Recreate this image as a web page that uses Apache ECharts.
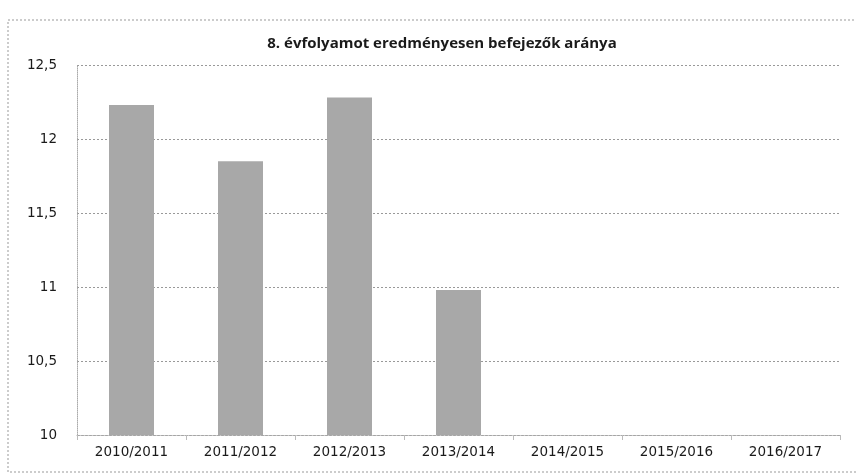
<!DOCTYPE html>
<html>
<head>
<meta charset="utf-8">
<script src="https://cdn.jsdelivr.net/npm/echarts@6/dist/echarts.min.js"></script>
<style>
  html, body { margin: 0; padding: 0; background: #fff; }
  #main { width: 856px; height: 474px; }
</style>
</head>
<body>
<div id="main"></div>
<script>
var categories = ['2010/2011', '2011/2012', '2012/2013', '2013/2014', '2014/2015', '2015/2016', '2016/2017'];
var values = [12.23, 11.85, 12.28, 10.98, null, null, null];
var yTicks = { min: 10, max: 12.5, step: 0.5 };

var myChart = echarts.init(document.getElementById('main'));
myChart.setOption({
    backgroundColor: '#fff',
    title: {
        text: '8. évfolyamot eredményesen befejezők aránya',
        left: 437,
        textAlign: 'center',
        top: 31,
        textStyle: { fontFamily: 'Open Sans', fontSize: 15, fontWeight: 'bold', color: '#1a1a1a' }
    },
    graphic: [{
        type: 'rect',
        shape: { x: 8, y: 20, width: 860, height: 452 },
        style: { fill: 'none', stroke: '#999', lineWidth: 1, lineDash: [2, 2] }
    }],
    grid: { left: 77, right: 16, top: 65, bottom: 39 },
    xAxis: {
        type: 'category',
        data: categories,
        axisLine: { lineStyle: { color: '#aaa', type: 'dotted' } },
        axisTick: { show: true, lineStyle: { color: '#bbb' } },
        axisLabel: { color: '#1a1a1a', fontFamily: 'DejaVu Sans', fontSize: 13.5, margin: 10 }
    },
    yAxis: {
        type: 'value',
        min: yTicks.min,
        max: yTicks.max,
        interval: yTicks.step,
        axisLine: { show: true, lineStyle: { color: '#aaa', type: 'dotted' } },
        axisTick: { show: false },
        splitLine: { lineStyle: { color: '#999', type: [2, 2] } },
        axisLabel: {
            color: '#1a1a1a', fontFamily: 'DejaVu Sans', fontSize: 13.5, margin: 20,
            formatter: function (v) { return String(v).replace('.', ','); }
        }
    },
    series: [{
        type: 'bar',
        data: values,
        barWidth: 45,
        itemStyle: { color: '#a8a8a8' }
    }]
});
</script>
</body>
</html>
